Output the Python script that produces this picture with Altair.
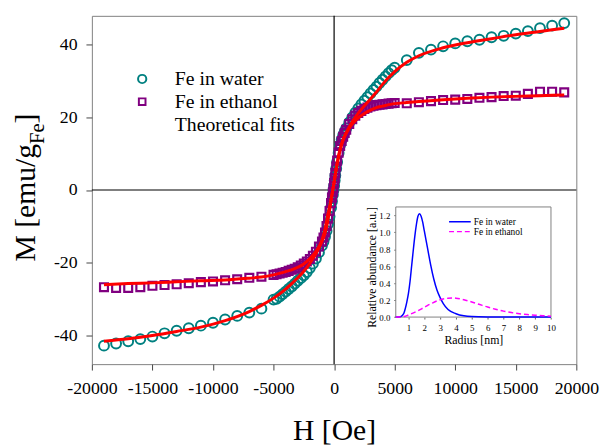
import altair as alt
import pandas as pd

FONT = "Times New Roman, Liberation Serif, serif"

# ---------------- main panel data ----------------
H_data = [-19000, -18000, -17000, -16000, -15000, -14000, -13000, -12000, -11000, -10000,
          -9000, -8000, -7000, -6000, -5000,
          -4750, -4500, -4250, -4000, -3750, -3500, -3250, -3000, -2750, -2500,
          -2250, -2000, -1750, -1500, -1250,
          -1000, -875, -750, -625, -500, -375, -250, -175, -100, -50, 0,
          50, 100, 175, 250, 375, 500, 625, 750, 875, 1000,
          1250, 1500, 1750, 2000, 2250, 2500, 2750, 3000, 3250, 3500,
          3750, 4000, 4250, 4500, 4750,
          5000, 6000, 7000, 8000, 9000, 10000, 11000, 12000, 13000, 14000,
          15000, 16000, 17000, 18000, 19000]

M_water = [-42.9, -42.3, -41.7, -41.1, -40.4, -39.5, -38.8, -38.1, -37.4, -36.6,
           -35.7, -34.7, -33.8, -32.7, -30.2,
           -30.0, -29.4, -28.7, -28.0, -27.3, -26.6, -25.8, -25.0, -24.3, -23.5,
           -22.6, -21.5, -20.3, -18.9, -17.2,
           -15.3, -14.2, -12.9, -11.3, -9.4, -7.3, -4.9, -3.1, -1.3, 0.0, 1.2,
           2.6, 4.0, 5.9, 7.7, 10.2, 12.4, 13.9, 15.1, 16.1, 17.0,
           18.6, 20.0, 21.3, 22.5, 23.6, 24.6, 25.6, 26.6, 27.6, 28.5,
           29.5, 30.4, 31.3, 32.2, 33.0,
           33.7, 35.8, 37.8, 38.7, 39.6, 40.4, 41.0, 41.4, 42.1, 42.5,
           43.1, 43.8, 44.6, 45.3, 46.0]

M_ethanol = [-26.8, -27.0, -27.0, -26.8, -26.4, -26.2, -26.0, -25.7, -25.4, -25.2,
             -24.9, -24.6, -24.2, -23.9, -23.4,
             -23.2, -23.0, -22.8, -22.6, -22.3, -22.0, -21.7, -21.3, -20.8, -20.3,
             -19.7, -19.0, -18.1, -17.0, -15.6,
             -14.2, -13.1, -11.7, -9.9, -7.9, -5.8, -3.6, -2.1, -0.6, 0.5, 1.9,
             3.3, 4.7, 6.5, 8.1, 10.3, 12.1, 13.5, 14.7, 15.7, 16.6,
             18.2, 19.5, 20.5, 21.2, 21.8, 22.3, 22.7, 23.0, 23.2, 23.4,
             23.5, 23.6, 23.7, 23.8, 23.9,
             24.0, 23.9, 24.2, 24.5, 24.8, 24.9, 25.1, 25.4, 25.6, 25.9,
             26.0, 26.5, 27.1, 27.1, 26.9]

H_fit = [-19000, -17000, -15000, -13000, -11000, -9000, -7000, -6000, -5000, -4000,
         -3500, -3000, -2500, -2000, -1500, -1000, -750, -500, -250, 0,
         250, 500, 750, 1000, 1500, 2000, 2500, 3000, 3500, 4000,
         5000, 6000, 7000, 9000, 11000, 13000, 15000, 17000, 19000]

fit_water = [-41.7, -41.0, -40.1, -39.0, -37.8, -36.0, -33.5, -31.8, -29.8, -27.3,
             -25.8, -24.2, -22.4, -20.2, -17.6, -14.2, -12.0, -8.2, -3.0, 2.3,
             7.5, 11.4, 14.0, 15.8, 18.8, 21.2, 23.2, 25.1, 27.0, 29.1,
             32.6, 35.2, 37.0, 39.2, 40.6, 41.7, 42.8, 43.7, 44.6]

fit_ethanol = [-26.1, -25.8, -25.6, -25.3, -25.0, -24.8, -24.3, -24.0, -23.4, -22.5,
               -22.0, -21.3, -20.4, -18.9, -16.9, -13.8, -10.8, -6.5, -2.5, 2.0,
               7.0, 11.0, 13.8, 15.6, 18.2, 19.9, 21.1, 22.0, 22.7, 23.1,
               23.8, 24.1, 24.4, 24.9, 25.3, 25.6, 25.8, 26.0, 26.2]

x_ticks = [-20000, -15000, -10000, -5000, 0, 5000, 10000, 15000, 20000]
y_ticks = [-40, -20, 0, 20, 40]
x_domain = [-20000, 20000]
y_domain = [-48, 48]

legend_labels = ["Fe in water", "Fe in ethanol", "Theoretical fits"]
y_title_parts = ["M [emu/g", "Fe", "]"]
x_title = "H [Oe]"

# ---------------- inset data ----------------
r_water = [0.2, 0.5, 0.7, 0.8, 0.9, 1.0, 1.1, 1.2, 1.3, 1.4, 1.5, 1.6, 1.7, 1.8, 1.9,
           2.0, 2.2, 2.4, 2.6, 2.8, 3.0, 3.2, 3.5, 4.0, 4.5, 5.0, 6.0, 7.0, 8.0, 10.0]
a_water = [0.0, 0.005, 0.04, 0.10, 0.18, 0.28, 0.42, 0.60, 0.78, 0.95, 1.09, 1.19, 1.22, 1.19, 1.12,
           1.02, 0.82, 0.62, 0.45, 0.32, 0.23, 0.16, 0.09, 0.04, 0.015, 0.006, 0.002, 0.001, 0.0, 0.0]

r_ethanol = [0.2, 0.5, 0.8, 1.0, 1.5, 2.0, 2.5, 3.0, 3.5, 3.8, 4.0, 4.5, 5.0, 5.5, 6.0,
             6.5, 7.0, 7.5, 8.0, 8.5, 9.0, 9.5, 10.0]
a_ethanol = [0.0, 0.002, 0.01, 0.025, 0.065, 0.115, 0.165, 0.205, 0.222, 0.225, 0.223, 0.205, 0.178, 0.148, 0.118,
             0.092, 0.07, 0.053, 0.04, 0.03, 0.022, 0.016, 0.011]

inset_x_ticks = [1, 2, 3, 4, 5, 6, 7, 8, 9, 10]
inset_y_ticks = [0.0, 0.2, 0.4, 0.6, 0.8, 1.0, 1.2]
inset_x_domain = [0.2, 10]
inset_y_domain = [0, 1.3]
inset_labels = ["Fe in water", "Fe in ethanol"]
inset_x_title = "Radius [nm]"
inset_y_title = "Relative abundance [a.u.]"

TEAL = "#008080"
PURPLE = "#800080"

# ---------------- main panel ----------------
df_w = pd.DataFrame({"H": H_data, "M": M_water})
df_e = pd.DataFrame({"H": H_data, "M": M_ethanol})
df_fw = pd.DataFrame({"H": H_fit, "M": fit_water})
df_fe = pd.DataFrame({"H": H_fit, "M": fit_ethanol})

xs = alt.Scale(domain=x_domain, nice=False, zero=False)
ys = alt.Scale(domain=y_domain, nice=False, zero=False)

x_axis = alt.Axis(values=x_ticks, labelExpr="'' + datum.value", title=x_title,
                  titleFont=FONT, titleFontSize=30, titleFontWeight="normal", titleColor="black",
                  titleY=76, titleBaseline="alphabetic",
                  labelFont=FONT, labelFontSize=18, labelColor="black", labelFlush=False,
                  labelOverlap=False, labelPadding=10, tickSize=6, tickColor="#444444",
                  domain=False, grid=False)
y_axis = alt.Axis(values=y_ticks, labelExpr="'' + datum.value", title=None,
                  labelFont=FONT, labelFontSize=18, labelColor="black", labelPadding=9,
                  tickSize=6, tickColor="#444444", domain=False, grid=False)

one = pd.DataFrame({"k": [0]})
zero_h = alt.Chart(one).mark_rule(color="black", strokeWidth=1.2).encode(
    y=alt.Y(datum=0, scale=ys, axis=y_axis))
zero_v = alt.Chart(one).mark_rule(color="black", strokeWidth=1.2).encode(
    x=alt.X(datum=0, scale=xs, axis=x_axis))

circles = alt.Chart(df_w).mark_point(shape="circle", filled=False, size=100, strokeWidth=2,
                                     color=TEAL, opacity=1).encode(
    x=alt.X("H:Q", scale=xs, axis=x_axis), y=alt.Y("M:Q", scale=ys, axis=y_axis))
squares = alt.Chart(df_e).mark_point(shape="square", filled=False, size=64, strokeWidth=2.2,
                                     color=PURPLE, opacity=1).encode(
    x=alt.X("H:Q", scale=xs, axis=x_axis), y=alt.Y("M:Q", scale=ys, axis=y_axis))
fit_w = alt.Chart(df_fw).mark_line(color="#ff0000", strokeWidth=3, interpolate="monotone").encode(
    x=alt.X("H:Q", scale=xs, axis=x_axis), y=alt.Y("M:Q", scale=ys, axis=y_axis))
fit_e = alt.Chart(df_fe).mark_line(color="#ff0000", strokeWidth=3, interpolate="monotone").encode(
    x=alt.X("H:Q", scale=xs, axis=x_axis), y=alt.Y("M:Q", scale=ys, axis=y_axis))

main = alt.layer(zero_h, zero_v, circles, squares, fit_w, fit_e)

# ---------------- inset ----------------
xs_in = alt.Scale(domain=inset_x_domain, range=[308, 465.3], nice=False, zero=False)
ys_in = alt.Scale(domain=inset_y_domain, range=[305.3, 193.7], nice=False, zero=False)

ix_axis = alt.Axis(orient="bottom", offset=-47.7, values=inset_x_ticks, title=inset_x_title,
                   titleFont=FONT, titleFontSize=12, titleFontWeight="normal", titleColor="black",
                   titleY=26.7, titleBaseline="alphabetic",
                   labelFont=FONT, labelFontSize=9, labelColor="black", labelFlush=False,
                   labelPadding=5, tickSize=2, tickColor="#666666", domain=False, grid=False)
iy_axis = alt.Axis(orient="left", offset=-308, values=inset_y_ticks, format=".1f",
                   title=inset_y_title, titleFont=FONT, titleFontSize=12, titleFontWeight="normal",
                   titleColor="black", titleX=-21, titleY=254.5, titleBaseline="alphabetic",
                   labelFont=FONT, labelFontSize=9, labelColor="black", labelPadding=4,
                   tickSize=2, tickColor="#666666", domain=False, grid=False)

df_frame = pd.DataFrame({"r": [inset_x_domain[0]], "r2": [inset_x_domain[1]],
                         "a": [inset_y_domain[0]], "a2": [inset_y_domain[1]]})
frame = alt.Chart(df_frame).mark_rect(fill="white", stroke="#808080", strokeWidth=1).encode(
    x=alt.X("r:Q", scale=xs_in, axis=ix_axis), x2="r2:Q",
    y=alt.Y("a:Q", scale=ys_in, axis=iy_axis), y2="a2:Q")
blue = alt.Chart(pd.DataFrame({"r": r_water, "a": a_water})).mark_line(
    color="#0000ff", strokeWidth=1.5, interpolate="monotone").encode(
    x=alt.X("r:Q", scale=xs_in, axis=ix_axis), y=alt.Y("a:Q", scale=ys_in, axis=iy_axis))
magenta = alt.Chart(pd.DataFrame({"r": r_ethanol, "a": a_ethanol})).mark_line(
    color="#ff00ff", strokeWidth=1.5, strokeDash=[5, 3], interpolate="monotone").encode(
    x=alt.X("r:Q", scale=xs_in, axis=ix_axis), y=alt.Y("a:Q", scale=ys_in, axis=iy_axis))

inset = alt.layer(frame, blue, magenta)

# ---------------- legends / titles (annotations) ----------------
leg_circle = alt.Chart(one).mark_point(shape="circle", filled=False, size=70, strokeWidth=2,
                                       color=TEAL, opacity=1).encode(
    x=alt.value(51), y=alt.value(64))
leg_square = alt.Chart(one).mark_point(shape="square", filled=False, size=45, strokeWidth=2,
                                       color=PURPLE, opacity=1).encode(
    x=alt.value(51), y=alt.value(87))
leg_texts = [
    alt.Chart(one).mark_text(align="left", baseline="alphabetic", font=FONT, fontSize=20,
                             color="black").encode(
        x=alt.value(84), y=alt.value(yy), text=alt.value(lbl))
    for lbl, yy in zip(legend_labels, [70.3, 93.7, 117])
]

in_leg_blue = alt.Chart(one).mark_rule(color="#0000ff", strokeWidth=1.5).encode(
    x=alt.value(362), x2=alt.value(384), y=alt.value(208.7))
in_leg_mag = alt.Chart(one).mark_rule(color="#ff00ff", strokeWidth=1.5, strokeDash=[5, 3]).encode(
    x=alt.value(362), x2=alt.value(384), y=alt.value(218.7))
in_leg_texts = [
    alt.Chart(one).mark_text(align="left", baseline="middle", font=FONT, fontSize=9.5,
                             color="black").encode(
        x=alt.value(387), y=alt.value(yy), text=alt.value(lbl))
    for lbl, yy in zip(inset_labels, [209, 219.5])
]

ytitle_main = alt.Chart(one).mark_text(align="left", baseline="alphabetic", angle=270, font=FONT,
                                       fontSize=30, color="black").encode(
    x=alt.value(-58), y=alt.value(249), text=alt.value(y_title_parts[0]))
ytitle_sub = alt.Chart(one).mark_text(align="left", baseline="alphabetic", angle=270, font=FONT,
                                      fontSize=21, color="black").encode(
    x=alt.value(-49), y=alt.value(130), text=alt.value(y_title_parts[1]))
ytitle_end = alt.Chart(one).mark_text(align="left", baseline="alphabetic", angle=270, font=FONT,
                                      fontSize=30, color="black").encode(
    x=alt.value(-58), y=alt.value(109), text=alt.value(y_title_parts[2]))

chart = alt.layer(
    main, inset, leg_circle, leg_square, *leg_texts, in_leg_blue, in_leg_mag, *in_leg_texts,
    ytitle_main, ytitle_sub, ytitle_end
).resolve_scale(
    x="independent", y="independent"
).properties(
    width=491, height=353,
    autosize=alt.AutoSizeParams(type="none"),
    padding={"left": 85, "top": 5, "right": 25, "bottom": 79},
    background="white",
).configure_view(stroke="#808080", strokeWidth=1)

chart.save("out.html", embed_options={"renderer": "svg", "actions": False})
